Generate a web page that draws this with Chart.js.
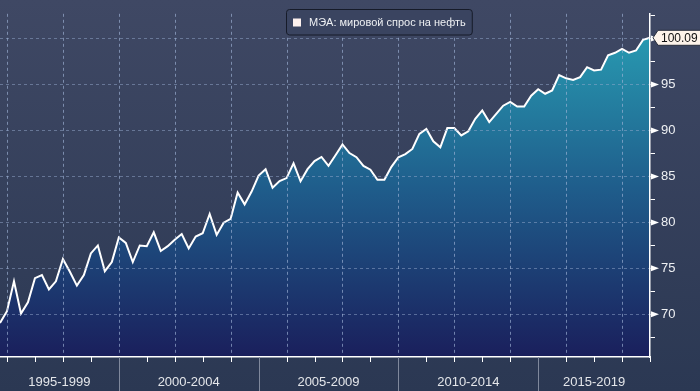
<!DOCTYPE html>
<html>
<head>
<meta charset="utf-8">
<script src="https://cdn.jsdelivr.net/npm/chart.js@4"></script>
<style>
  html, body { margin: 0; padding: 0; background: #344060; }
  #wrap { width: 700px; height: 391px; position: relative; }
</style>
</head>
<body>
<div id="wrap"><canvas id="chart"></canvas></div>
<script>
// quarterly world oil demand, mb/d (IEA), 1995 Q4 .. 2019 Q1
const seriesLabel = "МЭА: мировой спрос на нефть";
const demand = [
  69.04, 70.34, 73.58, 70.08, 71.31, 73.93, 74.27, 72.70, 73.58, 76.02,
  74.63, 73.12, 74.27, 76.62, 77.49, 74.69, 75.68, 78.36, 77.77, 75.68,
  77.49, 77.41, 78.92, 76.89, 77.41, 78.12, 78.74, 77.17, 78.46, 78.82,
  80.91, 78.64, 79.97, 80.39, 83.25, 81.96, 83.35, 85.10, 85.79, 83.77,
  84.50, 84.82, 86.42, 84.47, 85.79, 86.67, 87.12, 86.15, 87.30, 88.48,
  87.54, 87.09, 86.15, 85.73, 84.64, 84.64, 86.04, 87.09, 87.43, 87.99,
  89.63, 90.16, 88.83, 88.17, 90.26, 90.26, 89.46, 89.92, 91.28, 92.18,
  90.92, 91.80, 92.70, 93.12, 92.60, 92.60, 93.79, 94.50, 94.00, 94.35,
  96.02, 95.68, 95.50, 95.81, 96.89, 96.54, 96.62, 98.19, 98.46, 98.88,
  98.46, 98.71, 99.86, 100.09
];
const firstYear = 1995;
const firstQuarter = 4;
const gridYears = [1996, 1998, 2000, 2002, 2004, 2006, 2008, 2010, 2012, 2014, 2016, 2018];
const periodStarts = [1995, 2000, 2005, 2010, 2015];
const periodLabels = ["1995-1999", "2000-2004", "2005-2009", "2010-2014", "2015-2019"];
const lastValueLabel = "100.09";

const quarters = demand.map((_, i) => {
  const q = firstQuarter - 1 + i;
  return (firstYear + Math.floor(q / 4)) + " Q" + (q % 4 + 1);
});

const gridColor = "rgba(150, 170, 205, 0.5)";
const vGridColor = "rgba(160, 180, 215, 0.65)";
const font = "'Liberation Sans', Arial, sans-serif";

const decor = {
  id: "decor",
  beforeDraw(chart) {
    const { ctx, width, height } = chart;
    const g = ctx.createLinearGradient(0, 0, 0, height);
    g.addColorStop(0, "#3f4864");
    g.addColorStop(1, "#2b3853");
    ctx.save();
    ctx.fillStyle = g;
    ctx.fillRect(0, 0, width, height);
    ctx.restore();
  },
  afterDraw(chart) {
    const { ctx, chartArea, scales } = chart;
    const xs = scales.x, ys = scales.y;
    const bottom = chartArea.bottom;
    ctx.save();

    // dashed vertical grid every second year
    ctx.fillStyle = vGridColor;
    gridYears.forEach(yr => {
      const i = quarters.indexOf(yr + " Q1");
      if (i < 0) return;
      const gx = Math.round(xs.getPixelForValue(i));
      for (let y = chartArea.top; y < bottom - 2; y += 6) {
        ctx.fillRect(gx, y, 1, 3);
      }
    });

    // year ticks below the axis
    ctx.strokeStyle = "#ffffff";
    ctx.lineWidth = 1;
    quarters.forEach((lab, i) => {
      if (!lab.endsWith("Q1")) return;
      const x = Math.round(xs.getPixelForValue(i)) + 0.5;
      ctx.beginPath();
      ctx.moveTo(x, bottom);
      ctx.lineTo(x, bottom + 5);
      ctx.stroke();
    });

    // period dividers and labels
    ctx.font = "13px " + font;
    ctx.fillStyle = "#e4e6ea";
    ctx.textAlign = "center";
    ctx.textBaseline = "middle";
    periodStarts.forEach((y, k) => {
      const i0 = quarters.indexOf(y + " Q1");
      const left = i0 >= 0 ? xs.getPixelForValue(i0) : chartArea.left;
      const nextY = periodStarts[k + 1];
      const i1 = nextY ? quarters.indexOf(nextY + " Q1") : -1;
      const right = i1 >= 0 ? xs.getPixelForValue(i1) : chartArea.right;
      if (i0 >= 0 && k > 0) {
        const x = Math.round(left) + 0.5;
        ctx.strokeStyle = "#7f889c";
        ctx.beginPath();
        ctx.moveTo(x, bottom);
        ctx.lineTo(x, chart.height);
        ctx.stroke();
      }
      ctx.fillText(periodLabels[k], (left + right) / 2, bottom + 25);
    });

    // markers at major y ticks
    ctx.fillStyle = "#ffffff";
    ys.ticks.forEach(t => {
      if (t.value % 5 !== 0) return;
      const y = ys.getPixelForValue(t.value);
      ctx.beginPath();
      ctx.moveTo(chartArea.right + 1, y - 3);
      ctx.lineTo(chartArea.right + 1, y + 3);
      ctx.lineTo(chartArea.right + 9, y);
      ctx.closePath();
      ctx.fill();
    });

    // legend box
    ctx.font = "11px " + font;
    const tw = ctx.measureText(seriesLabel).width;
    const bx = 286, by = 9.5, bh = 25.5;
    const bw = 22 + tw + 7;
    ctx.beginPath();
    ctx.roundRect(bx + 0.5, by, bw, bh, 3);
    ctx.fillStyle = "#3a4460";
    ctx.fill();
    ctx.strokeStyle = "#161b29";
    ctx.lineWidth = 1;
    ctx.stroke();
    ctx.fillStyle = "#fdf1ee";
    ctx.fillRect(bx + 7, by + 9, 8, 8);
    ctx.fillStyle = "#eef0f3";
    ctx.textAlign = "left";
    ctx.textBaseline = "middle";
    ctx.fillText(seriesLabel, bx + 23, by + bh / 2 + 0.5);

    // last value flag
    const lastY = ys.getPixelForValue(demand[demand.length - 1]);
    const fx = chartArea.right + 3;
    ctx.beginPath();
    ctx.moveTo(fx, lastY);
    ctx.lineTo(fx + 5, lastY - 7.5);
    ctx.lineTo(chart.width + 2, lastY - 7.5);
    ctx.lineTo(chart.width + 2, lastY + 7.5);
    ctx.lineTo(fx + 5, lastY + 7.5);
    ctx.closePath();
    ctx.fillStyle = "#fdf3ea";
    ctx.fill();
    ctx.strokeStyle = "#2a2f3d";
    ctx.stroke();
    ctx.fillStyle = "#111111";
    ctx.font = "12px " + font;
    ctx.fillText(lastValueLabel, fx + 8, lastY + 0.5);

    ctx.restore();
  }
};

const ctx = document.getElementById("chart").getContext("2d");
new Chart(ctx, {
  type: "line",
  data: {
    labels: quarters,
    datasets: [{
      label: seriesLabel,
      data: demand,
      borderColor: "#ffffff",
      borderWidth: 2,
      pointRadius: 0,
      tension: 0,
      fill: "start",
      backgroundColor: (c) => {
        const area = c.chart.chartArea;
        if (!area) return "#1f5f8f";
        const g = c.chart.ctx.createLinearGradient(0, area.top, 0, area.bottom);
        g.addColorStop(0, "#29a2b6");
        g.addColorStop(0.5, "#1f5e8c");
        g.addColorStop(1, "#1a1f5c");
        return g;
      }
    }]
  },
  options: {
    responsive: true,
    maintainAspectRatio: false,
    animation: false,
    devicePixelRatio: 1,
    layout: { padding: { top: 0, left: 0, right: 0, bottom: 34 } },
    plugins: {
      legend: { display: false },
      tooltip: { enabled: false }
    },
    scales: {
      x: {
        type: "category",
        offset: false,
        ticks: { display: false },
        grid: { display: false, drawTicks: false },
        border: { display: true, color: "#ffffff", width: 1.5, z: 2 }
      },
      y: {
        position: "right",
        min: 65.35,
        max: 102.7,
        afterBuildTicks: (scale) => {
          const ticks = [];
          for (let v = 67.5; v <= scale.max; v += 2.5) ticks.push({ value: v });
          scale.ticks = ticks;
        },
        afterFit: (scale) => { scale.width = 50; },
        ticks: {
          padding: 6,
          color: "#eef0f3",
          font: { family: font, size: 13 },
          callback: (v) => (v % 5 === 0 ? v : "")
        },
        grid: {
          z: 1,
          tickLength: 5,
          tickColor: "#ffffff",
          tickWidth: 1,
          color: (c) => (c.tick && c.tick.value % 5 === 0 ? gridColor : "transparent")
        },
        border: { display: true, color: "#ffffff", width: 1.5, dash: [3, 3], z: 2 }
      }
    }
  },
  plugins: [decor]
});
</script>
</body>
</html>
